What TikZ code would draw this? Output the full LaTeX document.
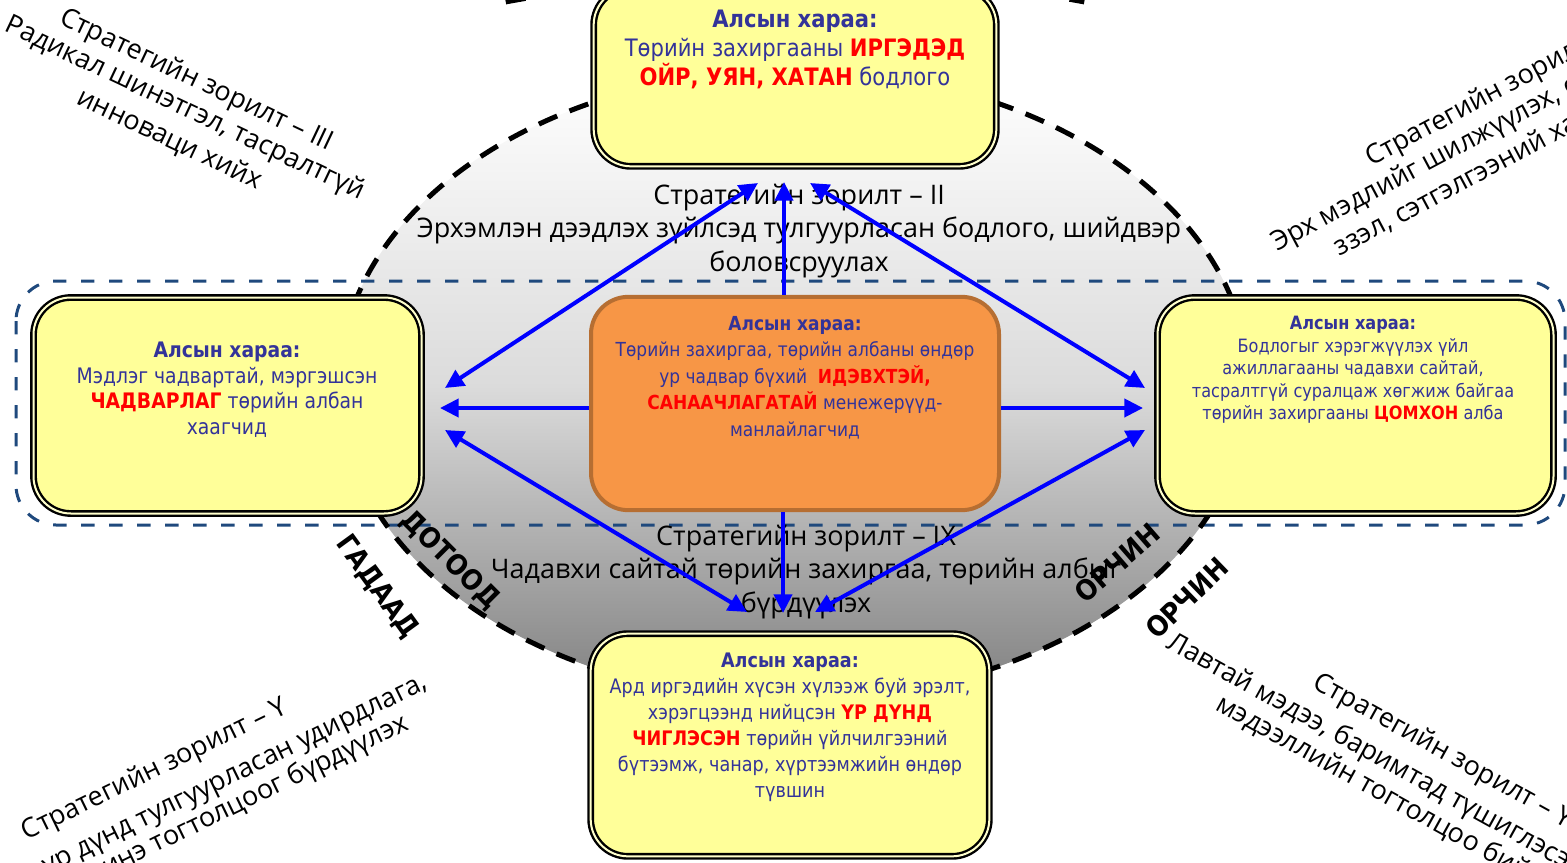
\documentclass[tikz,border=0pt]{standalone}
\usepackage{fontspec}
\newfontfamily\lblfont{Open Sans}
\newfontfamily\boxfont[FakeStretch=0.88]{DejaVu Sans}
\newfontfamily\envfont[FakeStretch=0.9]{DejaVu Sans}
\usetikzlibrary{arrows.meta}

\definecolor{boxyellow}{RGB}{255,255,153}
\definecolor{boxcream}{RGB}{255,255,204}
\definecolor{visblue}{RGB}{51,51,153}
\definecolor{hotred}{RGB}{255,0,0}
\definecolor{coreorange}{RGB}{247,150,70}
\definecolor{corebrown}{RGB}{182,110,50}
\definecolor{rimblue}{RGB}{31,73,125}
\newcommand{\hot}[1]{\textcolor{hotred}{\bfseries #1}}

\begin{document}
\begin{tikzpicture}[x=0.75pt,y=0.75pt,yscale=-1,xscale=1,
	visbox/.style={draw=black, line width=1.8pt, double=boxcream, double distance=1.5pt, fill=boxyellow, rounded corners=28pt, inner sep=0pt},
	corebox/.style={draw=corebrown, line width=3pt, fill=coreorange, rounded corners=28pt, inner sep=0pt},
	vistext/.style={anchor=north, align=center, inner sep=0pt, text=visblue},
	goal/.style={inner sep=0pt, font=\lblfont\fontsize{20.2}{25}\selectfont},
	envword/.style={inner sep=0pt, font=\envfont\bfseries\fontsize{21}{24}\selectfont},
	ring/.style={black, line width=3.75pt, dash pattern=on 15pt off 10pt},
	flow/.style={draw=blue, line width=3pt, -{Triangle[length=14pt,width=13.5pt]}},
	both/.style={flow, {Triangle[length=14pt,width=13.5pt]}-{Triangle[length=14pt,width=13.5pt]}}]
	\useasboundingbox (0,0) rectangle (1567,863);

	%Shape: Ellipse [inner environment]
	\shade [top color=white, bottom color=black!50, middle color=black!14] (794,385) ellipse [x radius=455, y radius=315];
	%Shape: Rounded Rect [dashed band]
	\draw [rimblue, line width=2.25pt, dash pattern=on 10pt off 11pt, rounded corners=30pt] (16,281) rectangle (1565,525);
	\draw [ring] (794,385) ellipse [x radius=455, y radius=315];
	%Shape: Arc [outer environment]
	\draw [ring] (795,385) ++(-110.5:826 and 409) arc [start angle=-110.5, end angle=-69.5, x radius=826, y radius=409];

	% Text Node
	\node [goal, align=center] (g2) at (799,231) {Стратегийн зорилт – II\\Эрхэмлэн дээдлэх зүйлсэд тулгуурласан бодлого, шийдвэр\\боловсруулах};
	% Text Node
	\node [goal, align=center] (g9) at (806,572) {Стратегийн зорилт – IX\\Чадавхи сайтай төрийн захиргаа, төрийн албыг\\бүрдүүлэх};

	% Text Node
	\node [envword, rotate=-54] (outL) at (377,587) {ГАДААД};
	\node [envword, rotate=-45] (inL) at (450,560) {ДОТООД};
	\node [envword, rotate=41] (inR) at (1117,563) {ОРЧИН};
	\node [envword, rotate=44] (outR) at (1187,598) {ОРЧИН};

	%Shape: Boxes
	\node [visbox, minimum width=302pt, minimum height=134pt] (vtop) at (795,77) {};
	\node [visbox, minimum width=291pt, minimum height=162pt] (vleft) at (227.5,405.5) {};
	\node [visbox, minimum width=297pt, minimum height=162pt] (vright) at (1355.5,405.5) {};
	\node [visbox, minimum width=299pt, minimum height=167pt] (vbottom) at (790,745) {};
	\node [corebox, minimum width=306pt, minimum height=160pt] (vcore) at (795,403.5) {};

	% Text Node
	\node [vistext, font=\boxfont\fontsize{18}{21.75}\selectfont] (ttop) at (795,10) {\textbf{Алсын хараа:}\\Төрийн захиргааны \hot{ИРГЭДЭД}\\\hot{ОЙР, УЯН, ХАТАН} бодлого};
	% Text Node
	\node [vistext, font=\boxfont\fontsize{16}{19.1}\selectfont] (tleft) at (227,342) {\textbf{Алсын хараа:}\\Мэдлэг чадвартай, мэргэшсэн\\\hot{ЧАДВАРЛАГ} төрийн албан\\хаагчид};
	% Text Node
	\node [vistext, font=\boxfont\fontsize{13.75}{16.9}\selectfont] (tright) at (1353,316) {\textbf{Алсын хараа:}\\Бодлогыг хэрэгжүүлэх үйл\\ажиллагааны чадавхи сайтай,\\тасралтгүй суралцаж хөгжиж байгаа\\төрийн захиргааны \hot{ЦОМХОН} алба};
	% Text Node
	\node [vistext, font=\boxfont\fontsize{15}{19.5}\selectfont] (tbottom) at (790,652.6) {\textbf{Алсын хараа:}\\Ард иргэдийн хүсэн хүлээж буй эрэлт,\\хэрэгцээнд нийцсэн \hot{ҮР ДҮНД}\\\hot{ЧИГЛЭСЭН} төрийн үйлчилгээний\\бүтээмж, чанар, хүртээмжийн өндөр\\түвшин};
	% Text Node
	\node [vistext, font=\boxfont\fontsize{14.5}{19.9}\selectfont] (tcore) at (795,316) {\textbf{Алсын хараа:}\\Төрийн захиргаа, төрийн албаны өндөр\\ур чадвар бүхий \ \hot{ИДЭВХТЭЙ,}\\\hot{САНААЧЛАГАТАЙ} менежерүүд-\\манлайлагчид};

	%Straight Lines [arrow tips]
	\coordinate (upT) at (784,182);
	\coordinate (dnT) at (783,613);
	\coordinate (lfT) at (440,408);
	\coordinate (rtT) at (1143,408);
	\coordinate (dgLT) at (445,388);
	\coordinate (dgTL) at (758,183);
	\coordinate (dgTR) at (810,183);
	\coordinate (dgRT) at (1145,388);
	\coordinate (dgRB) at (1145,430);
	\coordinate (dgBR) at (815,612);
	\coordinate (dgBL) at (747,612);
	\coordinate (dgLB) at (445,430);

	\draw [flow] (vcore.north -| upT) -- (upT);
	\draw [flow] (vcore.south -| dnT) -- (dnT);
	\draw [flow] (vcore.west |- lfT) -- (lfT);
	\draw [flow] (vcore.east |- rtT) -- (rtT);
	\draw [both] (dgLT) -- (dgTL);
	\draw [both] (dgTR) -- (dgRT);
	\draw [both] (dgRB) -- (dgBR);
	\draw [both] (dgBL) -- (dgLB);

	% Text Node [outer goals]
	\node [goal, anchor=base, rotate=-25.3] (g3a) at (193.2,87.2) {Стратегийн зорилт – III};
	\node [goal, anchor=base, rotate=-25.3] (g3b) at (181.6,115.1) {Радикал шинэтгэл, тасралтгүй};
	\node [goal, anchor=base, rotate=-25.3] (g3c) at (166.2,146.4) {инноваци хийх};
	% Text Node
	\node [goal, anchor=base west, rotate=28] (g4a) at (1371,166.7) {Стратегийн зорилт – IV};
	\node [goal, anchor=base west, rotate=28] (g4b) at (1277,251.7) {Эрх мэдлийг шилжүүлэх, оролцоог};
	\node [goal, anchor=base west, rotate=28] (g4c) at (1339.7,256.5) {ззэл, сэтгэлгээний хандлага};
	% Text Node
	\node [goal, anchor=base, rotate=26] (g5a) at (158,776.5) {Стратегийн зорилт – Y};
	\node [goal, anchor=base east, rotate=26] (g5b) at (429,688) {үр дүнд тулгуурласан удирдлага,};
	\node [goal, anchor=base east, rotate=26] (g5c) at (410,729) {шинэ тогтолцоог бүрдүүлэх};
	% Text Node
	\node [goal, anchor=base west, rotate=-29] (g6a) at (1311.6,687) {Стратегийн зорилт – YI};
	\node [goal, anchor=base west, rotate=-29] (g6b) at (1165.3,647.3) {Лавтай мэдээ, баримтад түшиглэсэн};
	\node [goal, anchor=base west, rotate=-29] (g6c) at (1214,709) {мэдээллийн тогтолцоо бий болгох};

\end{tikzpicture}
\end{document}
